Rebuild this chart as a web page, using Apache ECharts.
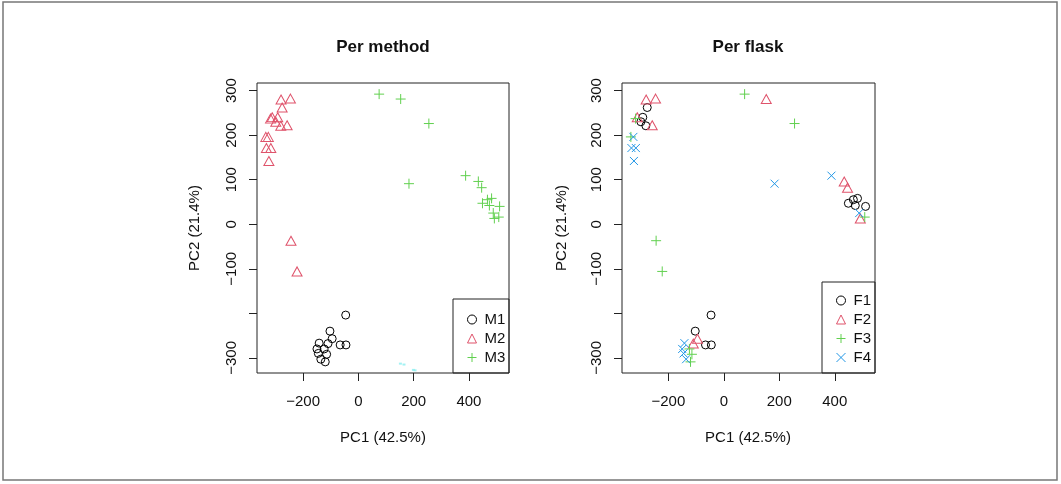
<!DOCTYPE html>
<html><head><meta charset="utf-8">
<script src="https://cdn.jsdelivr.net/npm/echarts@6/dist/echarts.min.js"></script>
<style>html,body{margin:0;padding:0;background:#fff}#c{width:1061px;height:484px}</style>
</head><body><div id="c"></div><script>
// PCA scores (same samples in both panels)
const pcX = [-280,-246,-276,-312,-318,-292,-299,-281,-258,-335,-326,-333,-317,-324,-244,-222,
             75,153,255,183,388,
             434,446,449,467,482,474,511,488,508,492,
             -46,-103,-95,-66,-45,-110,-142,-150,-124,-145,-115,-136,-120];
const pcY = [280,282,262,240,237,240,230,221,222,196,196,171,171,142,-37,-106,
             292,281,226,91,109,
             96,82,47,55,58,42,40,25,16,13,
             -204,-240,-257,-271,-271,-268,-267,-280,-280,-290,-292,-303,-309];
const methodGroup = ['M2','M2','M2','M2','M2','M2','M2','M2','M2','M2','M2','M2','M2','M2','M2','M2',
             'M3','M3','M3','M3','M3',
             'M3','M3','M3','M3','M3','M3','M3','M3','M3','M3',
             'M1','M1','M1','M1','M1','M1','M1','M1','M1','M1','M1','M1','M1'];
const flaskGroup = ['F2','F2','F1','F2','F3','F1','F1','F1','F2','F3','F4','F4','F4','F4','F3','F3',
             'F3','F2','F3','F4','F4',
             'F2','F2','F1','F1','F1','F1','F1','F4','F3','F2',
             'F1','F1','F2','F1','F1','F2','F4','F4','F3','F4','F3','F4','F3'];
const methodNames = ['M1','M2','M3'];
const flaskNames = ['F1','F2','F3','F4'];
// faint cyan specks at the bottom of the left panel
const speckX = [152,165,199,205];
const speckY = [-313,-315,-327,-328];
const xTicks = [-200,0,200,400];
const yTicks = [-300,-200,-100,0,100,200,300];
const yTickLabels = ['\u2212300','','\u2212100','0','100','200','300'];
const xTickLabels = ['\u2212200','0','200','400'];
const titles = ['Per method','Per flask'];
const xName = 'PC1 (42.5%)';
const yName = 'PC2 (21.4%)';

const FONT = "'Liberation Sans', Arial, sans-serif";
const colors = ['#000000','#DF536B','#61D04F','#2297E6'];
const symbols = ['circle','triangle','path://M0,5L10,5M5,0L5,10','path://M0,0L10,10M10,0L0,10'];
const sizes = [8,[10,9],10,8];

function buildSeries(names, groups, gi){
  return names.map((nm,i)=>{
    const data=[];
    for(let k=0;k<pcX.length;k++){ if(groups[k]===nm) data.push([pcX[k],pcY[k]]); }
    return {type:'scatter', name:nm, xAxisIndex:gi, yAxisIndex:gi, data,
      symbol:symbols[i], symbolSize:sizes[i], silent:true,
      itemStyle:{color:'rgba(0,0,0,0)', borderColor:colors[i], borderWidth:1, opacity:1}};
  });
}
const series = buildSeries(methodNames, methodGroup, 0).concat(buildSeries(flaskNames, flaskGroup, 1));
series.push({type:'scatter', name:'speck', xAxisIndex:0, yAxisIndex:0, silent:true,
  data: speckX.map((v,i)=>[v,speckY[i]]), symbol:'rect', symbolSize:[3,2],
  itemStyle:{color:'#8CEFF0'}});

const grids = [{left:257, top:83, width:252, height:290}, {left:622, top:83, width:253, height:290}];
const axisColor = '#222';
function xAx(gi){ return {type:'value', gridIndex:gi, min:-367, max:545, position:'bottom',
  splitLine:{show:false}, axisLine:{show:false, onZero:false},
  axisTick:{show:true, customValues:xTicks, length:8, inside:false, lineStyle:{color:axisColor,width:1}},
  axisLabel:{show:true, customValues:xTicks, margin:21, fontSize:15, color:'#111', fontFamily:FONT,
    formatter:v=>xTickLabels[xTicks.indexOf(v)]}}; }
function yAx(gi){ return {type:'value', gridIndex:gi, min:-334, max:317, position:'left',
  splitLine:{show:false}, axisLine:{show:false, onZero:false},
  axisTick:{show:true, customValues:yTicks, length:8, inside:false, lineStyle:{color:axisColor,width:1}},
  axisLabel:{show:true, customValues:yTicks, margin:18, rotate:90, fontSize:15, color:'#111', fontFamily:FONT,
    formatter:v=>yTickLabels[yTicks.indexOf(v)]}}; }

const legendCommon = {orient:'vertical', itemWidth:9, itemHeight:9, itemGap:4, selectedMode:false,
  itemStyle:{borderWidth:1},
  textStyle:{fontSize:15, lineHeight:15, color:'#111', fontFamily:FONT, padding:[0,0,0,3]}};

const graphic = [
  {type:'rect', shape:{x:3,y:2,width:1054,height:478}, style:{fill:'none', stroke:'#777', lineWidth:1.5}, silent:true},
  {type:'rect', shape:{x:453,y:299,width:56,height:74}, style:{fill:'none', stroke:axisColor, lineWidth:1}, silent:true},
  {type:'rect', shape:{x:822,y:282,width:53,height:91}, style:{fill:'none', stroke:axisColor, lineWidth:1}, silent:true}
];
[383,748].forEach((cx,i)=>{
  graphic.push({type:'text', x:cx, y:47, style:{text:titles[i], font:"bold 17px "+FONT, fill:'#111', align:'center', verticalAlign:'middle'}, silent:true});
  graphic.push({type:'text', x:cx, y:438, style:{text:xName, font:"15px "+FONT, fill:'#111', align:'center', verticalAlign:'middle'}, silent:true});
});
[195,562].forEach((cx)=>{
  graphic.push({type:'text', x:cx, y:228, rotation:Math.PI/2, style:{text:yName, font:"15px "+FONT, fill:'#111', align:'center', verticalAlign:'middle'}, silent:true});
});

const chart = echarts.init(document.getElementById('c'), null, {renderer:'canvas'});
chart.setOption({
  animation:false, backgroundColor:'#fff',
  grid: grids.map(g=>Object.assign({show:true, borderColor:axisColor, borderWidth:1, backgroundColor:'rgba(0,0,0,0)'}, g)),
  xAxis:[xAx(0), xAx(1)], yAxis:[yAx(0), yAx(1)],
  legend:[Object.assign({data:methodNames, left:462, top:307}, legendCommon),
          Object.assign({data:flaskNames, left:831, top:288}, legendCommon)],
  graphic, series
});
</script></body></html>
